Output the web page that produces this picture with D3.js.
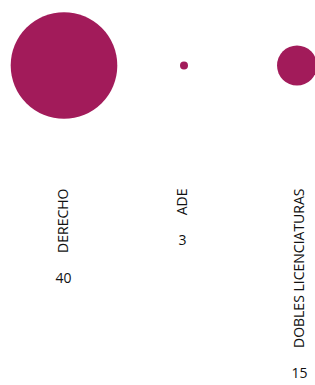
<!DOCTYPE html>
<html>
<head>
<meta charset="utf-8">
<script src="https://cdn.jsdelivr.net/npm/d3@7"></script>
<style>
  body { margin: 0; background: #fff; }
  text { font-family: "Open Sans", sans-serif; fill: #111; }
</style>
</head>
<body>
<div id="chart"></div>
<script>
var categories = ["DERECHO", "ADE", "DOBLES LICENCIATURAS"];
var values = [40, 3, 15];

var width = 315, height = 385;

var svg = d3.select("#chart").append("svg")
    .attr("width", width)
    .attr("height", height);

// column centres of the bubbles
var x = d3.scaleOrdinal()
    .domain(categories)
    .range([64, 184, 297]);

// text columns sit slightly off the bubble centres in the original
var xt = d3.scaleOrdinal()
    .domain(categories)
    .range([63, 182, 299]);

// radius is linear in the value
var r = d3.scaleLinear()
    .domain([0, 40])
    .range([0, 53.3]);

var cy = 65.5;
var labelTop = 188.5;

svg.append("g").selectAll("circle")
    .data(categories)
    .join("circle")
    .attr("cx", d => x(d))
    .attr("cy", cy)
    .attr("r", (d, i) => r(values[i]))
    .attr("fill", "#a21b5a");

var labels = svg.append("g").selectAll("text")
    .data(categories)
    .join("text")
    .attr("transform", d => "translate(" + xt(d) + "," + labelTop + ") rotate(-90)")
    .attr("text-anchor", "end")
    .attr("dy", "0.35em")
    .style("font-size", "14px")
    .text(d => d);

labels.each(function(d, i) {
    var len = this.getComputedTextLength();
    svg.append("text")
        .attr("x", xt(d) + 0.5)
        .attr("y", labelTop + len + 30)
        .attr("text-anchor", "middle")
        .style("font-size", "14px")
        .text(values[i]);
});
</script>
</body>
</html>
